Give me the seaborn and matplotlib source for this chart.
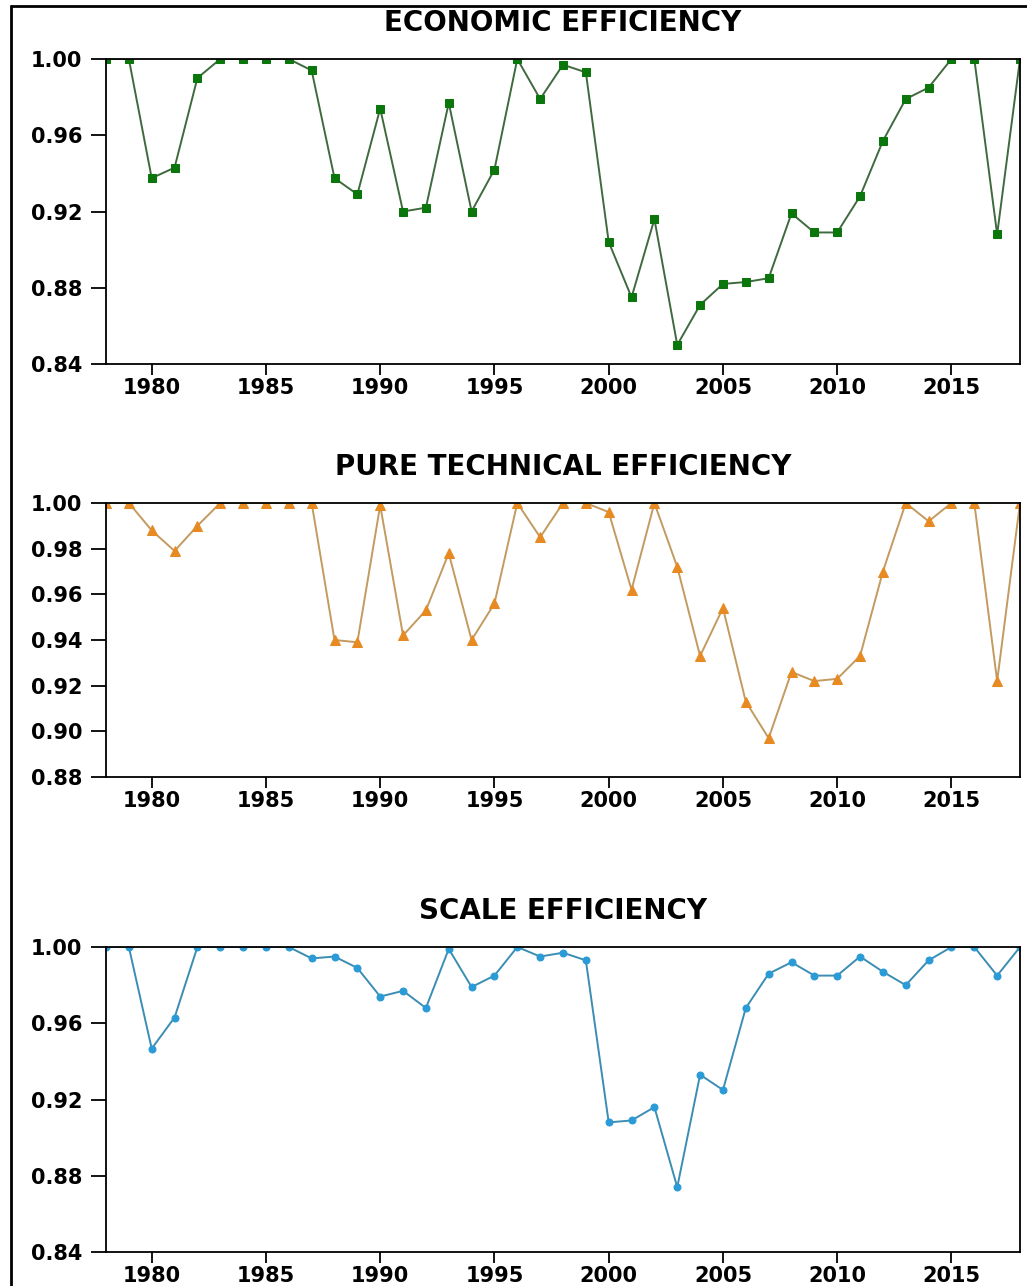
import numpy as np
import pandas as pd
import matplotlib
matplotlib.use("Agg")
import matplotlib.pyplot as plt
from matplotlib.lines import Line2D
import seaborn as sns

years = list(range(1978, 2019))

economic_eff = [1.000, 1.000, 0.9375, 0.943, 0.990, 1.000, 1.000, 1.000, 1.000, 0.994,
                0.9375, 0.929, 0.974, 0.920, 0.922, 0.977, 0.920, 0.942, 1.000, 0.979,
                0.997, 0.993, 0.904, 0.875, 0.916, 0.850, 0.871, 0.882, 0.883, 0.885,
                0.919, 0.909, 0.909, 0.928, 0.957, 0.979, 0.985, 1.000, 1.000, 0.908,
                1.000]

pure_tech_eff = [1.000, 1.000, 0.988, 0.979, 0.990, 1.000, 1.000, 1.000, 1.000, 1.000,
                 0.940, 0.939, 0.999, 0.942, 0.953, 0.978, 0.940, 0.956, 1.000, 0.985,
                 1.000, 1.000, 0.996, 0.962, 1.000, 0.972, 0.933, 0.954, 0.913, 0.897,
                 0.926, 0.922, 0.923, 0.933, 0.970, 1.000, 0.992, 1.000, 1.000, 0.922,
                 1.000]

scale_eff = [1.000, 1.000, 0.9467, 0.963, 1.000, 1.000, 1.000, 1.000, 1.000, 0.994,
             0.995, 0.989, 0.974, 0.977, 0.968, 0.999, 0.979, 0.985, 1.000, 0.995,
             0.997, 0.993, 0.908, 0.909, 0.916, 0.874, 0.933, 0.925, 0.968, 0.986,
             0.992, 0.985, 0.985, 0.995, 0.987, 0.980, 0.993, 1.000, 1.000, 0.985,
             1.000]

titles = ["ECONOMIC EFFICIENCY", "PURE TECHNICAL EFFICIENCY", "SCALE EFFICIENCY"]
series = [economic_eff, pure_tech_eff, scale_eff]
y_ticks = [np.arange(0.84, 1.001, 0.04), np.arange(0.88, 1.001, 0.02), np.arange(0.84, 1.001, 0.04)]
x_ticks = [1980, 1985, 1990, 1995, 2000, 2005, 2010, 2015]

# marker face colour, line colour, marker, size
styles = [("#0b760b", "#3f6a3f", "s", 6.0),
          ("#e88a22", "#c39a60", "^", 6.5),
          ("#2a9bd6", "#3b8db3", "o", 5.0)]

sns.set_style("ticks")
plt.rcParams["font.family"] = ["DejaVu Sans"]

W, H = 1027, 1286
fig = plt.figure(figsize=(W / 100, H / 100), dpi=100)

# axes boxes in pixels: (left, top, right, bottom)
boxes = [(106, 59, 1020, 364), (106, 503, 1020, 777), (106, 947, 1020, 1252)]

for box, title, vals, yt, (mc, lc, mk, ms) in zip(boxes, titles, series, y_ticks, styles):
    l, t, r, b = box
    ax = fig.add_axes([l / W, 1 - b / H, (r - l) / W, (b - t) / H])
    df = pd.DataFrame({"year": years, "value": vals})
    sns.lineplot(data=df, x="year", y="value", ax=ax, color=lc, linewidth=1.4,
                 marker=mk, markersize=ms, markerfacecolor=mc, markeredgecolor=mc)
    ax.set_xlim(1978, 2018)
    ax.set_ylim(yt[0], 1.0)
    ax.set_yticks(yt)
    ax.set_yticklabels([f"{v:.2f}" for v in yt])
    ax.set_xticks(x_ticks)
    ax.set_xticklabels([str(x) for x in x_ticks])
    ax.set_xlabel("")
    ax.set_ylabel("")
    for s in ax.spines.values():
        s.set_visible(True)
        s.set_linewidth(1.3)
        s.set_color("black")
    ax.tick_params(axis="both", direction="out", width=1.3, colors="black",
                   labelsize=15)
    ax.tick_params(axis="y", length=11, pad=6)
    ax.tick_params(axis="x", length=8, pad=2)
    for lab in ax.get_xticklabels() + ax.get_yticklabels():
        lab.set_fontweight("bold")
    ax.set_title(title, fontsize=20, fontweight="bold", color="black", pad=20)

# outer frame (left and top edges visible)
fig.add_artist(Line2D([11 / W, 11 / W], [0, 1 - 6 / H], transform=fig.transFigure,
                      color="black", linewidth=2))
fig.add_artist(Line2D([11 / W, 1], [1 - 6 / H, 1 - 6 / H], transform=fig.transFigure,
                      color="black", linewidth=2))

fig.savefig("out.png", dpi=100)
